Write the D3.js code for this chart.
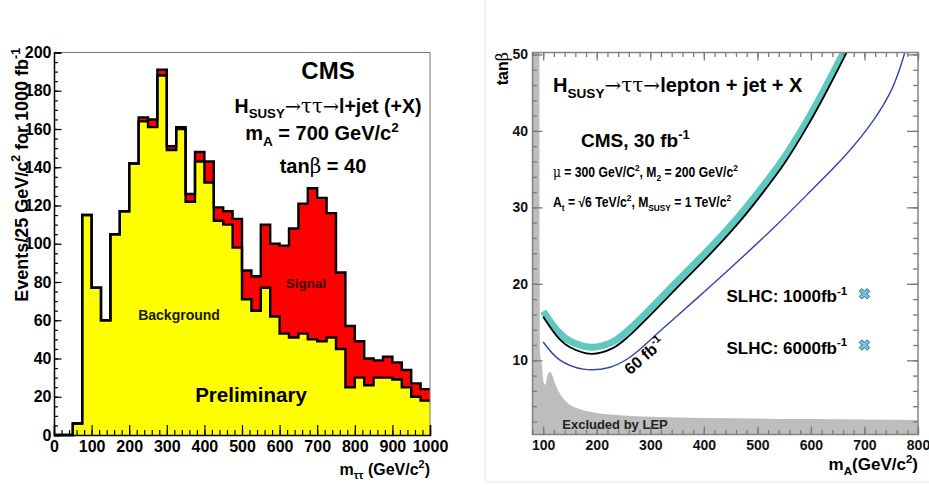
<!DOCTYPE html>
<html>
<head>
<meta charset="utf-8">
<script src="https://cdn.jsdelivr.net/npm/d3@7"></script>
<style>
  body { margin: 0; background: #fff; }
  svg { display: block; font-family: "Liberation Sans", Arial, Helvetica, sans-serif; font-weight: bold; }
</style>
</head>
<body>
<svg id="chart" width="929" height="486"></svg>
<script>
// ---- left panel: m_tautau distribution, 25 GeV bins ----
const binLow = [0, 25, 50, 75, 100, 125, 150, 175, 200, 225, 250, 275, 300, 325, 350, 375, 400, 425, 450, 475,
                500, 525, 550, 575, 600, 625, 650, 675, 700, 725, 750, 775, 800, 825, 850, 875, 900, 925, 950, 975];
const background = [0, 0, 6, 115, 77, 60, 105, 117, 142, 164, 161, 188, 149, 160, 122, 143, 132, 112, 110, 98,
                    71, 65, 77, 62, 53, 51, 53, 50, 49, 51, 45, 25, 30, 26, 30, 30, 29, 25, 20, 18];
const bkgPlusSignal = [0, 0, 6, 115, 77, 60, 105, 117, 142, 166, 165, 191, 151, 161, 126, 148, 143, 119, 117, 113,
                       86, 83, 110, 100, 99, 108, 121, 129, 124, 116, 85, 57, 49, 40, 39, 41, 38, 34, 27, 24];
const massTicks = [0, 100, 200, 300, 400, 500, 600, 700, 800, 900, 1000];
const eventTicks = [0, 20, 40, 60, 80, 100, 120, 140, 160, 180, 200];

// ---- right panel: discovery reach in (mA, tanb) ----
const reach1000 = [[100, 16.4], [130, 13.6], [150, 12.5], [190, 11.7], [230, 12.4], [262, 14.1], [287, 15.8],
                   [357, 20.8], [420, 25.3], [470, 29.2], [510, 32.7], [550, 36.5], [590, 41.0], [625, 45.4],
                   [662, 50.4], [672, 51.8]];
const reach30 = [[100, 15.7], [130, 12.8], [150, 11.7], [190, 10.85], [230, 11.6], [262, 13.3], [287, 15.0],
                 [357, 20.0], [420, 24.5], [470, 28.4], [510, 31.9], [550, 35.7], [590, 40.2], [625, 44.6],
                 [662, 49.6], [675, 51.5]];
const reach60 = [[100, 12.4], [130, 10.1], [175, 8.85], [225, 9.1], [262, 10.4], [324, 14.2], [387, 18.1],
                 [455, 22.4], [530, 27.3], [592, 31.6], [667, 37.0], [716, 41.3], [750, 45.3], [770, 49], [780, 51.5]];
const lepExcl = [[80, 50.3], [93, 50.3], [94, 11], [97, 9.6], [101, 7.1], [104, 6.8], [108, 8.0], [112, 8.5],
                 [116, 8.2], [122, 7.0], [130, 5.8], [140, 4.8], [150, 4.2], [165, 3.7], [185, 3.3], [200, 3.1],
                 [250, 2.8], [300, 2.62], [400, 2.45], [500, 2.38], [600, 2.32], [700, 2.27], [800, 2.2]];
const slhcPoints = [[700, 18.7], [700, 12.0]];
const slhcLabels = ["1000", "6000"];
const mATicks = [100, 200, 300, 400, 500, 600, 700, 800];
const tanbTicks = [10, 20, 30, 40, 50];

const svg = d3.select("#chart");
const greek = "'DejaVu Serif', 'Liberation Serif', serif";

// text with sub/superscripts and greek letters
function rich(sel, x, y, size, parts, anchor) {
  const t = sel.append("text").attr("x", x).attr("y", y)
    .attr("font-size", size).attr("text-anchor", anchor || "start");
  let shift = 0;
  parts.forEach(([s, k]) => {
    const target = k === "sub" ? size * 0.28 : k === "sup" ? -size * 0.42 : 0;
    const sp = t.append("tspan").attr("dy", target - shift).text(s);
    shift = target;
    if (k === "sub" || k === "sup") sp.attr("font-size", size * 0.68);
    if (k === "gr") sp.attr("font-family", greek).attr("font-weight", "normal");
  });
  return t;
}

// ================= LEFT PANEL =================
const xL = d3.scaleLinear().domain([0, 1000]).range([54, 430]);
const yL = d3.scaleLinear().domain([0, 200]).range([435, 52.5]);

const left = svg.append("g");
const bins = binLow.map((b, i) => ({ x: b, bkg: background[i], tot: bkgPlusSignal[i] }));
const last = bins[bins.length - 1];
const steps = bins.concat([{ x: 1000, bkg: last.bkg, tot: last.tot }]);

const areaOf = key => d3.area().curve(d3.curveStepAfter)
  .x(d => xL(d.x)).y0(yL(0)).y1(d => yL(d[key]));
const lineOf = key => d3.line().curve(d3.curveStepAfter)
  .x(d => xL(d.x)).y(d => yL(d[key]));

left.append("path").attr("d", areaOf("tot")(steps)).attr("fill", "#ff0000");
left.append("path").attr("d", areaOf("bkg")(steps)).attr("fill", "#ffff00");
left.append("path").attr("d", lineOf("bkg")(steps)).attr("fill", "none")
  .attr("stroke", "#000").attr("stroke-width", 2.4);
left.append("path").attr("d", lineOf("tot")(steps)).attr("fill", "none")
  .attr("stroke", "#000").attr("stroke-width", 2.4);

// frame top/right
left.append("path")
  .attr("d", `M${xL(0)},${yL(200)}H${xL(1000)}V${yL(0)}`)
  .attr("fill", "none").attr("stroke", "#777").attr("stroke-width", 1);

// axes (ticks inside)
const lxMinor = left.append("g").attr("transform", `translate(0,${yL(0)})`)
  .call(d3.axisBottom(xL).tickValues(xL.ticks(50)).tickSize(-5).tickFormat(""));
const lx = left.append("g").attr("transform", `translate(0,${yL(0)})`)
  .call(d3.axisBottom(xL).tickValues(massTicks).tickSize(-10).tickPadding(6).tickFormat(d3.format("d")));
const lyMinor = left.append("g").attr("transform", `translate(${xL(0)},0)`)
  .call(d3.axisLeft(yL).tickValues(yL.ticks(50)).tickSize(-4).tickFormat(""));
const ly = left.append("g").attr("transform", `translate(${xL(0)},0)`)
  .call(d3.axisLeft(yL).tickValues(eventTicks).tickSize(-7.5).tickPadding(2.5));
[lxMinor, lyMinor].forEach(g => g.select(".domain").remove());
[lxMinor, lx, lyMinor, ly].forEach(g => {
  g.selectAll("line").attr("stroke", "#000").attr("stroke-width", 1.2);
  g.select(".domain").attr("stroke", "#000").attr("stroke-width", 1.5);
  g.selectAll("text").attr("font-size", 16).attr("font-family", null).attr("fill", "#000");
});

// titles
rich(left, 0, 0, 18, [["Events/25 GeV/c", ""], ["2", "sup"], [" for 1000 fb", ""], ["-1", "sup"]], "end")
  .attr("transform", "translate(28,48) rotate(-90)");
rich(left, 430, 475, 16, [["m", ""], ["ττ", "sub"], [" (GeV/c", ""], ["2", "sup"], [")", ""]], "end");

left.append("text").attr("x", 328).attr("y", 79).attr("text-anchor", "middle")
  .attr("font-size", 24).text("CMS");
rich(left, 328, 113, 19.5, [["H", ""], ["SUSY", "sub"], ["→ττ→", "gr"], ["l+jet (+X)", ""]], "middle");
rich(left, 322, 140, 20, [["m", ""], ["A", "sub"], [" = 700 GeV/c", ""], ["2", "sup"]], "middle");
rich(left, 323, 172.5, 20, [["tan", ""], ["β", "gr"], [" = 40", ""]], "middle");
left.append("text").attr("x", 306).attr("y", 288).attr("text-anchor", "middle")
  .attr("font-size", 13.5).attr("fill", "#3a0000").text("Signal");
left.append("text").attr("x", 179).attr("y", 320).attr("text-anchor", "middle")
  .attr("font-size", 14).attr("fill", "#1a1a00").text("Background");
left.append("text").attr("x", 251).attr("y", 402).attr("text-anchor", "middle")
  .attr("font-size", 20.5).attr("fill", "#000").text("Preliminary");

// ================= RIGHT PANEL =================
const right = svg.append("g");
right.append("path").attr("d", "M485,0V482H929").attr("fill", "none")
  .attr("stroke", "#e4e4e4").attr("stroke-width", 1);

const xR = d3.scaleLinear().domain([80, 800]).range([532.5, 918]);
const yR = d3.scaleLinear().domain([0.3, 50.25]).range([434.5, 52.5]);

right.append("clipPath").attr("id", "frameR").append("rect")
  .attr("x", xR(80)).attr("y", yR(50.25)).attr("width", xR(800) - xR(80)).attr("height", yR(0.3) - yR(50.25));
const plot = right.append("g").attr("clip-path", "url(#frameR)");

plot.append("path")
  .attr("d", d3.area().x(d => xR(d[0])).y0(yR(0.3)).y1(d => yR(d[1])).curve(d3.curveMonotoneX)(lepExcl))
  .attr("fill", "#bdbdbd");

const curve = d3.line().x(d => xR(d[0])).y(d => yR(d[1])).curve(d3.curveCatmullRom.alpha(0.5));
plot.append("path").attr("d", curve(reach60)).attr("fill", "none")
  .attr("stroke", "#3344a8").attr("stroke-width", 1.4);
plot.append("path").attr("d", curve(reach1000)).attr("fill", "none")
  .attr("stroke", "#5fc9c1").attr("stroke-width", 7);
plot.append("path").attr("d", curve(reach30)).attr("fill", "none")
  .attr("stroke", "#000").attr("stroke-width", 1.8);

// frame and ticks
right.append("rect").attr("x", xR(80)).attr("y", yR(50.25))
  .attr("width", xR(800) - xR(80)).attr("height", yR(0.3) - yR(50.25))
  .attr("fill", "none").attr("stroke", "#858585").attr("stroke-width", 1.5);

const tickGroups = [
  right.append("g").attr("transform", `translate(0,${yR(0.3)})`)
    .call(d3.axisBottom(xR).tickValues(xR.ticks(36)).tickSize(-4.5).tickFormat("")),
  right.append("g").attr("transform", `translate(0,${yR(0.3)})`)
    .call(d3.axisBottom(xR).tickValues(mATicks).tickSize(-8).tickPadding(5.5)),
  right.append("g").attr("transform", `translate(0,${yR(50.25)})`)
    .call(d3.axisTop(xR).tickValues(xR.ticks(36)).tickSize(-4.5).tickFormat("")),
  right.append("g").attr("transform", `translate(0,${yR(50.25)})`)
    .call(d3.axisTop(xR).tickValues(mATicks).tickSize(-8).tickFormat("")),
  right.append("g").attr("transform", `translate(${xR(80)},0)`)
    .call(d3.axisLeft(yR).tickValues(yR.ticks(25)).tickSize(-4.5).tickFormat("")),
  right.append("g").attr("transform", `translate(${xR(80)},0)`)
    .call(d3.axisLeft(yR).tickValues(tanbTicks).tickSize(-10).tickPadding(4.5)),
  right.append("g").attr("transform", `translate(${xR(800)},0)`)
    .call(d3.axisRight(yR).tickValues(yR.ticks(25)).tickSize(-5).tickFormat("")),
  right.append("g").attr("transform", `translate(${xR(800)},0)`)
    .call(d3.axisRight(yR).tickValues(tanbTicks).tickSize(-11).tickFormat(""))
];
tickGroups.forEach(g => {
  g.select(".domain").remove();
  g.selectAll("line").attr("stroke", "#7a7a7a").attr("stroke-width", 1.3);
  g.selectAll("text").attr("font-size", 14).attr("font-family", null).attr("fill", "#111");
});

// axis titles
rich(right, 0, 0, 16, [["tan", ""], ["β", "gr"]], "end")
  .attr("transform", "translate(508,52) rotate(-90)");
rich(right, 918, 470, 17, [["m", ""], ["A", "sub"], ["(GeV/c", ""], ["2", "sup"], [")", ""]], "end");

// annotations
rich(right, 553, 92, 20, [["H", ""], ["SUSY", "sub"], ["→ττ→", "gr"], ["lepton + jet + X", ""]]);
rich(right, 581, 147, 19, [["CMS, 30 fb", ""], ["-1", "sup"]]);
rich(right, 0, 0, 14, [["μ", "gr"], [" = 300 GeV/C", ""], ["2", "sup"], [", M", ""], ["2", "sub"],
                       [" = 200 GeV/c", ""], ["2", "sup"]])
  .attr("transform", "translate(553,177) scale(0.87,1)");
rich(right, 0, 0, 14, [["A", ""], ["t", "sub"], [" = √6 TeV/c", ""], ["2", "sup"], [", M", ""], ["SUSY", "sub"],
                       [" = 1 TeV/c", ""], ["2", "sup"]])
  .attr("transform", "translate(553,207) scale(0.87,1)");
right.append("text").attr("x", 615).attr("y", 428.5).attr("text-anchor", "middle")
  .attr("font-size", 13).attr("fill", "#222").text("Excluded by LEP");
rich(right, 0, 0, 16, [["60 fb", ""], ["-1", "sup"]], "middle")
  .attr("transform", "translate(648,360) rotate(-41)");

slhcPoints.forEach((p, i) => {
  rich(right, xR(p[0]) - 138, yR(p[1]) + 8.5, 17, [["SLHC: " + slhcLabels[i] + "fb", ""], ["-1", "sup"]]);
  right.append("path")
    .attr("d", d3.symbol(d3.symbolCross, 70)())
    .attr("transform", `translate(${xR(p[0])},${yR(p[1])}) rotate(45)`)
    .attr("fill", "#5fc9e0").attr("stroke", "#2b3a4a").attr("stroke-width", 0.7);
});
</script>
</body>
</html>
